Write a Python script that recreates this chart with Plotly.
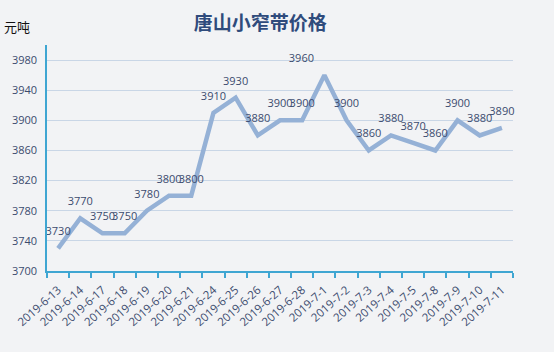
import plotly.graph_objects as go

dates = ["2019-6-13", "2019-6-14", "2019-6-17", "2019-6-18", "2019-6-19", "2019-6-20",
         "2019-6-21", "2019-6-24", "2019-6-25", "2019-6-26", "2019-6-27", "2019-6-28",
         "2019-7-1", "2019-7-2", "2019-7-3", "2019-7-4", "2019-7-5", "2019-7-8",
         "2019-7-9", "2019-7-10", "2019-7-11"]
prices = [3730, 3770, 3750, 3750, 3780, 3800, 3800, 3910, 3930, 3880, 3900, 3900,
          3960, 3900, 3860, 3880, 3870, 3860, 3900, 3880, 3890]
y_ticks = [3700, 3740, 3780, 3820, 3860, 3900, 3940, 3980]

label_color = "#3b4b6e"
axis_color = "#3fa6d2"

text_pos = ["top center"] * len(prices)
text_pos[prices.index(max(prices))] = "top left"

fig = go.Figure()
fig.add_trace(go.Scatter(
    x=dates, y=prices,
    mode="lines+markers+text",
    line=dict(color="#95b1d6", width=4.5),
    marker=dict(size=15, opacity=0),
    text=[str(v) for v in prices],
    textposition=text_pos,
    textfont=dict(family="Open Sans, Liberation Sans", size=11, color=label_color),
    cliponaxis=False,
    hoverinfo="x+y",
))

fig.update_layout(
    width=554, height=352,
    margin=dict(l=45, r=41, t=45, b=81),
    paper_bgcolor="#f2f3f5",
    plot_bgcolor="#f2f3f5",
    showlegend=False,
    title=dict(text="<b>唐山小窄带价格</b>", x=0.47, xanchor="center", y=0.935, yanchor="middle",
               font=dict(family="Noto Sans CJK SC", size=19, color="#2f4b7c")),
    annotations=[dict(text="元吨", xref="paper", yref="paper", x=-0.096, y=1.08,
                      showarrow=False, xanchor="left", yanchor="middle",
                      font=dict(family="Noto Sans CJK SC", size=13, color="#111111"))],
)

fig.update_xaxes(
    type="category",
    range=[-0.5, len(dates) - 0.5],
    tickangle=-42,
    ticks="outside", ticklen=5, tickcolor=axis_color, tickwidth=1.5,
    tickson="boundaries",
    ticklabelstandoff=6,
    showline=True, linecolor=axis_color, linewidth=1.5,
    showgrid=False,
    tickfont=dict(family="Open Sans, Liberation Sans", size=11.5, color=label_color),
)
fig.update_yaxes(
    range=[3700, 4000],
    tickvals=y_ticks,
    showline=True, linecolor=axis_color, linewidth=1.5,
    showgrid=True, gridcolor="#c9d6e6", gridwidth=1,
    zeroline=False,
    ticks="", ticklabelstandoff=6,
    tickfont=dict(family="Open Sans, Liberation Sans", size=11, color=label_color),
)

fig.write_html("out.html")
